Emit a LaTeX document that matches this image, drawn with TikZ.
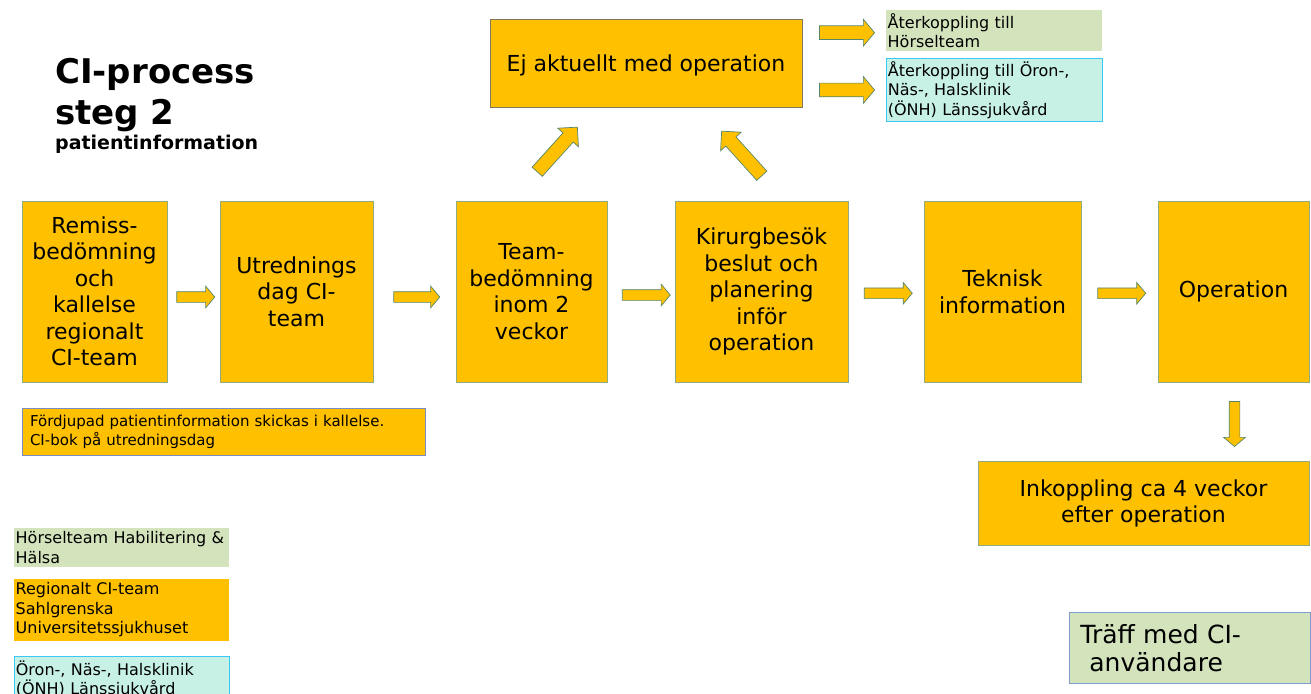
\documentclass[tikz,border=0pt]{standalone}
\usepackage{fontspec}
\setmainfont{DejaVu Sans}
\usetikzlibrary{shapes.arrows,calc,positioning}

\definecolor{ciorange}{HTML}{FFC000}
\definecolor{hgreen}{HTML}{D3E4BC}
\definecolor{oncyan}{HTML}{C8F1E6}
\definecolor{oncyanline}{HTML}{3CC8F5}
\definecolor{boxline}{HTML}{92AA82}
\definecolor{ejline}{HTML}{80785C}
\definecolor{arrowline}{HTML}{55866A}
\definecolor{infoline}{HTML}{7A8CC4}
\definecolor{traffline}{HTML}{7F9FCC}

\newcommand{\setfs}[2]{\fontsize{#1}{#2}\selectfont}

\tikzset{
  stepbox/.style={draw=boxline, fill=ciorange, line width=0.8pt, align=center,
    font=\setfs{22}{26.5}, minimum height=181, inner sep=0pt},
  notebox/.style={anchor=north west, align=left, font=\setfs{16}{19.5},
    inner xsep=1.5pt, inner ysep=3pt, text width=#1},
  titletext/.style={anchor=base west, inner sep=0pt, font=\bfseries\setfs{34}{41}},
  blockarrow/.style={single arrow, draw=arrowline, fill=ciorange, line width=0.7pt,
    inner xsep=0pt, inner ysep=5pt, single arrow head extend=5.5pt,
    single arrow tip angle=100, minimum height=#1},
  bigarrow/.style={blockarrow=#1, inner ysep=6.5pt, single arrow head extend=7pt,
    single arrow tip angle=90},
}

\begin{document}
\begin{tikzpicture}[x=1pt,y=-1pt]
  \useasboundingbox (0,0) rectangle (1311,693);
  \clip (0,0) rectangle (1311,693);

  % title
  \node[titletext] (ciproc) at (55,83.3) {CI-process};
  \node[titletext] (steg) at (55,124) {steg 2};
  \node[anchor=base west, inner sep=0pt, font=\bfseries\setfs{19}{22}] (patinfo) at (55,149) {patientinformation};

  % main row
  \node[stepbox, minimum width=145] (remiss) at (94.5,291.5) {Remiss-\\bedömning\\och\\kallelse\\regionalt\\CI-team};
  \node[stepbox, minimum width=153] (utred) at (296.5,291.5) {Utrednings\\dag CI-\\team};
  \node[stepbox, minimum width=151] (teambed) at (531.5,291.5) {Team-\\bedömning\\inom 2\\veckor};
  \node[stepbox, minimum width=173] (kirurg) at (761.5,291.5) {Kirurgbesök\\beslut och\\planering\\inför\\operation};
  \node[stepbox, minimum width=157] (teknisk) at (1002.5,292) {Teknisk\\information};
  \node[stepbox, minimum width=151] (oper) at (1233.5,291.5) {Operation};

  \node[blockarrow=38] (a1) at ($(remiss.east)!.5!(utred.west)+(0,5.5)$) {};
  \node[blockarrow=46] (a2) at ($(utred.east)!.5!(teambed.west)+(0,5.5)$) {};
  \node[blockarrow=48] (a3) at ($(teambed.east)!.5!(kirurg.west)+(3,3.5)$) {};
  \node[blockarrow=48] (a4) at ($(kirurg.east)!.5!(teknisk.west)+(0,1.5)$) {};
  \node[blockarrow=48] (a5) at ($(teknisk.east)!.5!(oper.west)+(0,1.5)$) {};

  % not relevant for surgery
  \node[stepbox, draw=ejline, minimum width=312, minimum height=88, text depth=0pt] (ejakt) at (646,63) {Ej aktuellt med operation};
  \node[bigarrow=60] (up1) at (555,152) [rotate=48] {};
  \node[bigarrow=60] (up2) at (744,156) [rotate=132] {};

  \node[notebox=213, fill=hgreen, minimum height=41] (back1) at (886,10) {Återkoppling till\\Hörselteam};
  \node[notebox=213, fill=oncyan, draw=oncyanline, line width=0.8pt, minimum height=62] (back2) at (886,58) {Återkoppling till Öron-,\\Näs-, Halsklinik\\(ÖNH) Länssjukvård};
  \node[blockarrow=55, inner ysep=6.5pt, single arrow head extend=6.5pt] (r1) at ($(ejakt.east |- back1.west)!.5!(back1.west)+(0,2)$) {};
  \node[blockarrow=55, inner ysep=6.5pt, single arrow head extend=6.5pt] (r2) at ($(ejakt.east |- back2.west)!.5!(back2.west)$) {};

  % information
  \node[draw=infoline, fill=ciorange, line width=0.8pt, minimum width=403, minimum height=47,
    text width=387, align=left, inner sep=0pt, font=\setfs{15}{19}] (info) at (223.5,431.5)
    {Fördjupad patientinformation skickas i kallelse.\\CI-bok på utredningsdag};

  % after surgery
  \node[stepbox, minimum width=331, minimum height=84] (inkop) at (1143.5,503.5) {Inkoppling ca 4 veckor\\efter operation};
  \node[blockarrow=45, rotate=-90] (down) at ($(oper.south)!.5!(oper.south |- inkop.north)+(1,0)$) {};

  \node[anchor=north west, draw=traffline, fill=hgreen, line width=0.8pt, align=left,
    text width=219, inner xsep=11pt, inner ysep=10.5pt, minimum height=71,
    font=\setfs{25}{28}] (traff) at (1069,612) {Träff med CI-\\\hspace*{9pt}användare};

  % legend
  \node[notebox=212, fill=hgreen, inner ysep=3.5pt, minimum height=39] (leg1) at (14,528) {Hörselteam Habilitering \&\\Hälsa};
  \node[notebox=212, fill=ciorange, inner ysep=3.5pt, minimum height=59] (leg2) at (14,579) {Regionalt CI-team\\Sahlgrenska\\Universitetssjukhuset};
  \node[notebox=212, fill=oncyan, draw=oncyanline, line width=0.8pt, inner ysep=2.5pt, minimum height=46] (leg3) at (14,656) {Öron-, Näs-, Halsklinik\\(ÖNH) Länssjukvård};
\end{tikzpicture}
\end{document}
